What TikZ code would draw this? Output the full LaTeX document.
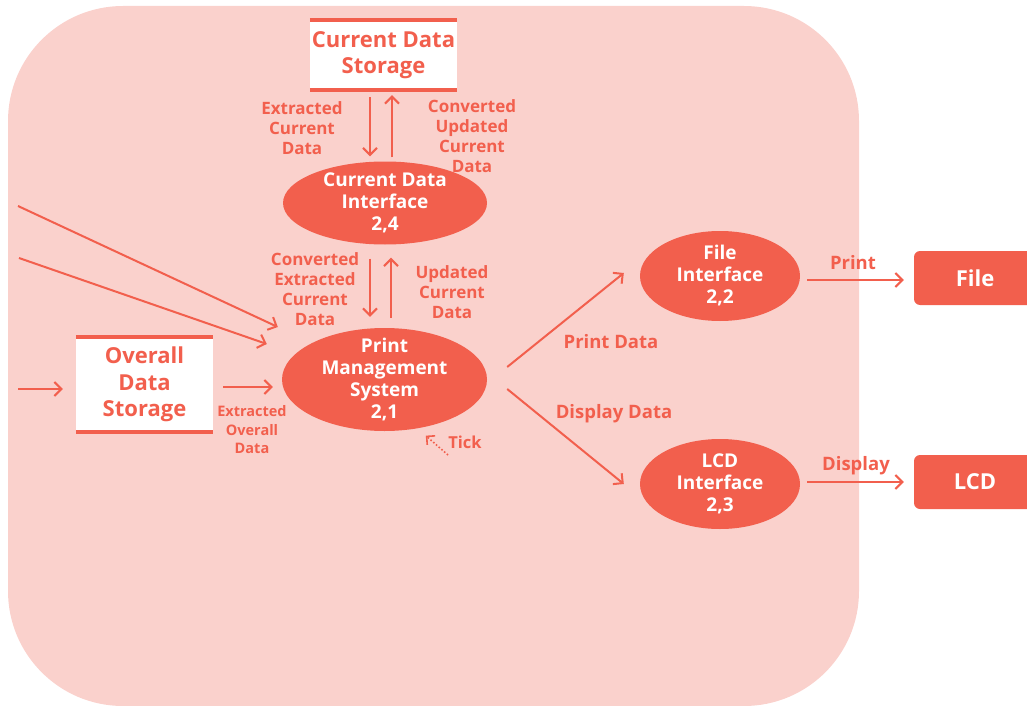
\documentclass[tikz,border=0pt]{standalone}
\usepackage{fontspec}
\setmainfont{Open Sans}
\usetikzlibrary{shapes.geometric,arrows.meta,calc}
\definecolor{mainc}{RGB}{242,95,77}
\definecolor{pinkc}{RGB}{250,209,204}
\tikzset{
 proc/.style={ellipse, fill=mainc, text=white, inner xsep=0pt, inner ysep=-25pt, align=center, font=\bfseries\fontsize{19}{22}\selectfont},
 store/.style={rectangle, fill=white, inner sep=0pt, align=center, text=mainc, font=\bfseries\fontsize{22}{26.5}\selectfont},
 ext/.style={rectangle, rounded corners=6pt, fill=mainc, text=white, font=\bfseries\fontsize{22}{26}\selectfont},
 lbl/.style={text=mainc, align=center, inner sep=0pt, font=\bfseries\fontsize{17}{20}\selectfont},
 arr/.style={draw=mainc, line width=2pt, -{Straight Barb[length=7pt,width=14pt,line width=2pt]}},
 tickarr/.style={draw=mainc, line width=1.6pt, dash pattern=on 1.6pt off 2pt, -{Straight Barb[length=6pt,width=12pt,line width=1.6pt]}},
 storeline/.style={draw=mainc, line width=4pt},
}
\begin{document}
\begin{tikzpicture}[x=1pt,y=-1pt]
\useasboundingbox (0,0) rectangle (1027,706);
\fill[pinkc, rounded corners=115pt] (8,6) rectangle (859,706);

% nodes
\node[store, minimum width=147pt, minimum height=70pt] (cds) at (383.5,55) {Current Data\\Storage};
\node[store, minimum width=137pt, minimum height=95pt] (ods) at (144.5,384.5) {Overall\\Data\\Storage};
\node[proc, minimum width=204pt, minimum height=83pt] (cdi) at (385,203) {Current Data\\Interface\\2,4};
\node[proc, minimum width=205pt, minimum height=103pt] (pms) at (384.5,379.5) {\rule{0pt}{4pt}Print\\Management\\System\\2,1};
\node[proc, minimum width=160pt, minimum height=90pt] (fi) at (720,276) {File\\Interface\\2,2};
\node[proc, minimum width=160pt, minimum height=90pt] (li) at (720,484) {LCD\\Interface\\2,3};
\node[ext, minimum width=122pt, minimum height=54pt] (file) at (975,278) {File};
\node[ext, minimum width=122pt, minimum height=54pt] (lcd) at (975,482) {LCD};

\draw[storeline] (cds.north west) -- (cds.north east) (cds.south west) -- (cds.south east);
\draw[storeline] (ods.north west) -- (ods.north east) (ods.south west) -- (ods.south east);

% free ends
\coordinate (in1) at (18,206);
\coordinate (in2) at (19,258);
\coordinate (in3) at (18,389);
\coordinate (tk) at (448,455);
\coordinate (oe) at ([yshift=-2.5pt]ods.east);

% connectors
\draw[arr, shorten <=7pt, shorten >=5pt] ([xshift=-13.5pt]cds.south) -- ([xshift=-15pt]cdi.north);
\draw[arr, shorten <=4pt, shorten >=5pt] ([xshift=7pt]cdi.north) -- ([xshift=8.5pt]cds.south);
\draw[arr, shorten <=14pt, shorten >=11pt] ([xshift=-15pt]cdi.south) -- ([xshift=-14.5pt]pms.north);
\draw[arr, shorten <=10pt, shorten >=13pt] ([xshift=6.5pt]pms.north) -- ([xshift=6pt]cdi.south);
\draw[arr] (in1) -- ([shift={(-4,-52.5)}]pms.west);
\draw[arr] (in2) -- ([shift={(-15,-35.5)}]pms.west);
\draw[arr, shorten >=13pt] (in3) -- (in3 -| ods.west);
\draw[arr, shorten <=10pt, shorten >=9pt] (oe) -- (oe -| pms.west);
\draw[tickarr, shorten >=11pt] (tk) -- (pms.-56);
\draw[arr] ([shift={(20,-12.5)}]pms.east) -- ([shift={(-16,-3)}]fi.west);
\draw[arr] ([shift={(20,9.5)}]pms.east) -- ([shift={(-16,0)}]li.west);
\draw[arr] ([shift={(7,4)}]fi.east) -- ([shift={(-10,2)}]file.west);
\draw[arr] ([shift={(7,-2)}]li.east) -- ([shift={(-10,0)}]lcd.west);

% labels
\node[lbl] (l1) at (302,128) {Extracted\\Current\\Data};
\node[lbl] (l2) at (472,136) {Converted\\Updated\\Current\\Data};
\node[lbl] (l3) at (315,289) {Converted\\Extracted\\Current\\Data};
\node[lbl] (l4) at (452,292) {Updated\\Current\\Data};
\node[lbl, font=\bfseries\fontsize{14.5}{18.5}\selectfont] (l5) at (252,430) {Extracted\\Overall\\Data};
\node[lbl, font=\bfseries\fontsize{16.5}{20}\selectfont] (l6) at (465,442) {Tick};
\node[lbl, font=\bfseries\fontsize{18.5}{22}\selectfont] (l7) at (611,342) {Print Data};
\node[lbl, font=\bfseries\fontsize{18.5}{22}\selectfont] (l8) at (614,414) {Display Data};
\node[lbl, font=\bfseries\fontsize{18.5}{22}\selectfont] (l9) at (853,263) {Print};
\node[lbl, font=\bfseries\fontsize{18.5}{22}\selectfont] (l10) at (856,466) {Display};
\end{tikzpicture}
\end{document}
